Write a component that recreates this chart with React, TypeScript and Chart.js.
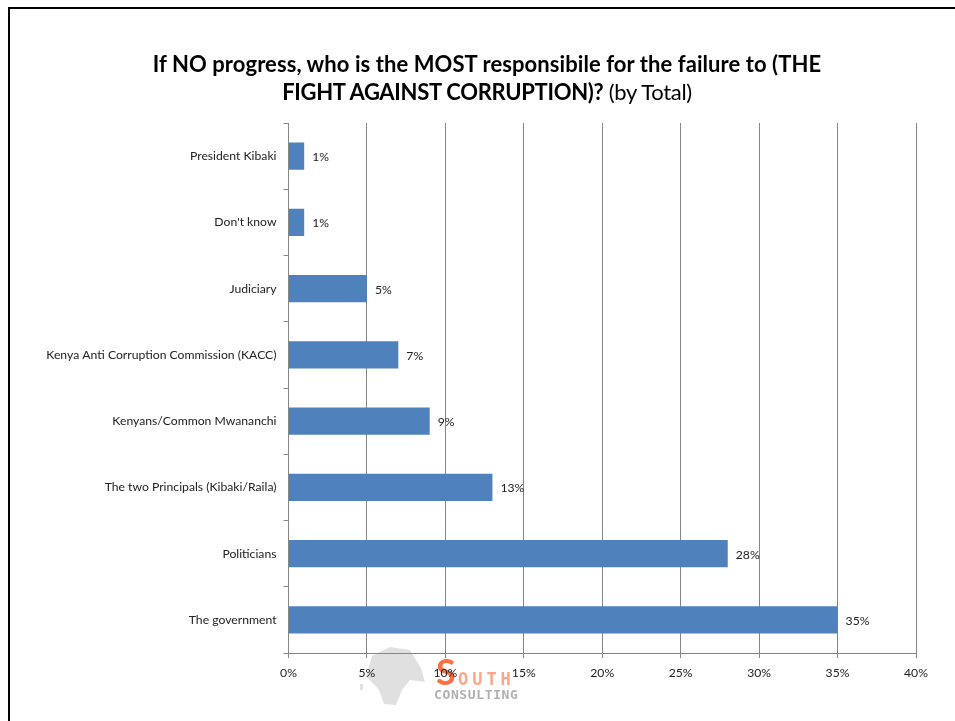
import React, { useEffect, useRef } from "react";
import { Chart, registerables } from "chart.js";

Chart.register(...registerables);

const categories = [
  "President Kibaki",
  "Don't know",
  "Judiciary",
  "Kenya Anti Corruption Commission (KACC)",
  "Kenyans/Common Mwananchi",
  "The two Principals (Kibaki/Raila)",
  "Politicians",
  "The government",
];
const values = [1, 1, 5, 7, 9, 13, 28, 35];
const FONT = "Lato, 'Open Sans', sans-serif";
const AXIS = "#868686";

const barLabels = {
  id: "barLabels",
  afterDatasetsDraw(chart: any) {
    const { ctx } = chart;
    const meta = chart.getDatasetMeta(0);
    ctx.save();
    ctx.font = `12.2px ${FONT}`;
    ctx.fillStyle = "#222";
    ctx.textAlign = "left";
    ctx.textBaseline = "middle";
    meta.data.forEach((bar: any, i: number) => {
      ctx.fillText(`${values[i]}%`, bar.x + 8, bar.y + 1);
    });
    ctx.restore();
  },
};

const logo = {
  id: "logo",
  beforeDraw(chart: any) {
    const { ctx } = chart;
    ctx.save();
    ctx.fillStyle = "#e0e0e0";
    ctx.beginPath();
    ctx.moveTo(372, 656);
    ctx.lineTo(390, 647);
    ctx.lineTo(410, 650);
    ctx.lineTo(421, 668);
    ctx.lineTo(425, 682);
    ctx.lineTo(410, 680);
    ctx.lineTo(402, 690);
    ctx.lineTo(396, 705);
    ctx.lineTo(384, 704);
    ctx.lineTo(379, 690);
    ctx.lineTo(366, 676);
    ctx.closePath();
    ctx.fill();
    ctx.fillRect(360, 684, 3, 6);
    ctx.textBaseline = "alphabetic";
    ctx.textAlign = "left";
    ctx.fillStyle = "#fb6f45";
    ctx.font = `bold 36px ${FONT}`;
    ctx.fillText("S", 436, 685);
    ctx.fillStyle = "#fda58a";
    ctx.font = `bold 17px 'DejaVu Sans Mono', monospace`;
    ["O", "U", "T", "H"].forEach((c, i) => ctx.fillText(c, 458 + i * 14.2, 685));
    ctx.fillStyle = "#b0b0b0";
    ctx.font = `bold 13px 'DejaVu Sans Mono', monospace`;
    "CONSULTING".split("").forEach((c, i) => ctx.fillText(c, 434 + i * 8.45, 699));
    ctx.restore();
  },
};

export default function App() {
  const ref = useRef<HTMLCanvasElement>(null);
  useEffect(() => {
    const chart = new Chart(ref.current!, {
      type: "bar",
      data: {
        labels: categories,
        datasets: [
          {
            data: values,
            backgroundColor: "#4F81BD",
            barPercentage: 0.41,
            categoryPercentage: 1,
          },
        ],
      },
      options: {
        indexAxis: "y",
        animation: false,
        responsive: false,
        layout: { padding: { top: 123, right: 39, bottom: 0, left: 0 } },
        plugins: { legend: { display: false }, title: { display: false }, tooltip: { enabled: false } },
        scales: {
          x: {
            min: 0,
            max: 40,
            ticks: {
              stepSize: 5,
              callback: (v: any) => `${v}%`,
              color: "#222",
              font: { family: FONT, size: 12.2 },
              padding: 8,
              maxRotation: 0,
            },
            grid: { color: AXIS, lineWidth: 1, tickLength: 5, drawTicks: true },
            border: { color: AXIS },
            afterFit: (s: any) => {
              s.height = 68;
            },
          },
          y: {
            offset: true,
            ticks: {
              color: "#222",
              font: { family: FONT, size: 12.2 },
              padding: 7,
              autoSkip: false,
            },
            grid: { drawOnChartArea: false, color: AXIS, tickLength: 5, offset: true },
            border: { color: AXIS },
            afterFit: (s: any) => {
              s.width = 288.5;
            },
          },
        },
      },
      plugins: [logo, barLabels],
    } as any);
    return () => chart.destroy();
  }, []);

  return (
    <div style={{ position: "absolute", left: 0, top: 0, width: 955, height: 721, overflow: "hidden", background: "#fff" }}>
      <div
        style={{
          position: "absolute",
          left: 8,
          top: 7,
          width: 960,
          height: 730,
          borderTop: "2px solid #000",
          borderLeft: "2px solid #000",
        }}
      />
      <canvas ref={ref} width={955} height={721} style={{ position: "absolute", left: 0, top: 0, display: "block" }} />
      <div
        style={{
          position: "absolute",
          left: 87,
          top: 50,
          width: 800,
          textAlign: "center",
          fontFamily: FONT,
          fontSize: 22,
          lineHeight: "28px",
          color: "#000",
        }}
      >
        <div style={{ fontWeight: 700, letterSpacing: "0.07px" }}>If NO progress, who is the MOST responsibile for the failure to (THE</div>
        <div style={{ letterSpacing: "-0.3px" }}>
          <span style={{ fontWeight: 700 }}>FIGHT AGAINST CORRUPTION)?</span> (by Total)
        </div>
      </div>
    </div>
  );
}
